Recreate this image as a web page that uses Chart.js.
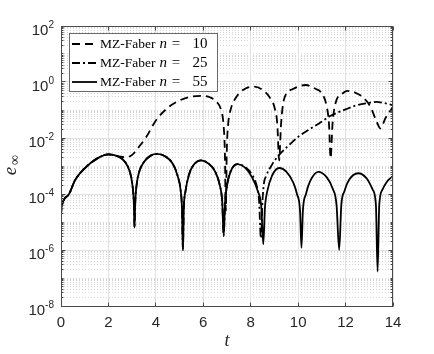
<!DOCTYPE html>
<html>
<head>
<meta charset="utf-8">
<script src="https://cdn.jsdelivr.net/npm/chart.js@4.4.1/dist/chart.umd.min.js"></script>
<style>
  html, body { margin: 0; padding: 0; background: #fff; }
</style>
</head>
<body>
<canvas id="chart" width="434" height="354"></canvas>
<script>
// n = 55 (solid)
const tN55 = [0, 0.02, 0.3, 0.6, 1.0, 1.5, 2.0, 2.4, 2.7, 2.9,
  3.0, 3.07, 3.1, 3.13, 3.2, 3.3, 3.5, 3.8, 4.05, 4.4,
  4.7, 4.9, 5.05, 5.1, 5.14, 5.18, 5.25, 5.4, 5.6, 5.9,
  6.2, 6.5, 6.7, 6.8, 6.86, 6.92, 7.0, 7.15, 7.44, 7.75,
  8.05, 8.3, 8.45, 8.53, 8.6, 8.7, 8.9, 9.2, 9.5, 9.8,
  9.95, 10.08, 10.14, 10.2, 10.33, 10.5, 10.85, 11.2, 11.45, 11.62,
  11.73, 11.82, 11.95, 12.15, 12.53, 12.9, 13.15, 13.28, 13.35, 13.42,
  13.55, 13.75, 14];
const eN55 = [1.6e-5, 3.2e-5, 8.9e-5, 3.2e-4, 8.3e-4, 1.8e-3, 2.6e-3, 2.2e-3, 1.4e-3, 6.3e-4,
  2.5e-4, 5.0e-5, 6.3e-6, 5.0e-5, 2.5e-4, 6.3e-4, 1.4e-3, 2.4e-3, 2.7e-3, 2.2e-3,
  1.26e-3, 5.0e-4, 1.26e-4, 3.2e-5, 1.0e-6, 3.2e-5, 1.26e-4, 5.0e-4, 1.12e-3, 1.6e-3,
  1.26e-3, 6.3e-4, 2.0e-4, 5.0e-5, 3.2e-6, 5.0e-5, 2.0e-4, 6.3e-4, 1.17e-3, 8.9e-4,
  4.0e-4, 1.26e-4, 3.2e-5, 1.6e-6, 3.2e-5, 1.26e-4, 4.5e-4, 8.5e-4, 6.3e-4, 2.5e-4,
  1.0e-4, 2.5e-5, 1.2e-6, 2.5e-5, 1.0e-4, 2.8e-4, 6.2e-4, 4.0e-4, 1.6e-4, 4.0e-5,
  1.0e-6, 4.0e-5, 1.26e-4, 3.2e-4, 5.5e-4, 3.5e-4, 1.4e-4, 4.0e-5, 1.7e-7, 4.0e-5,
  1.4e-4, 2.8e-4, 4.4e-4];

// n = 25 (dash-dot)
const tN25 = [0, 0.02, 0.3, 0.6, 1.0, 1.5, 2.0, 2.4, 2.7, 2.9,
  3.0, 3.07, 3.1, 3.13, 3.2, 3.3, 3.5, 3.8, 4.05, 4.4,
  4.7, 4.9, 5.05, 5.1, 5.14, 5.18, 5.25, 5.4, 5.6, 5.9,
  6.2, 6.5, 6.7, 6.8, 6.86, 6.92, 7.0, 7.15, 7.44, 7.75,
  8.05, 8.25, 8.35, 8.43, 8.5, 8.56, 8.64, 8.9, 9.2, 9.62,
  10.0, 10.5, 10.88, 11.37, 12.0, 12.5, 12.98, 13.3, 13.6, 14];
const eN25 = [1.6e-5, 3.2e-5, 8.9e-5, 3.2e-4, 8.3e-4, 1.8e-3, 2.6e-3, 2.2e-3, 1.4e-3, 6.3e-4,
  2.5e-4, 5.0e-5, 6.3e-6, 5.0e-5, 2.5e-4, 6.3e-4, 1.4e-3, 2.4e-3, 2.7e-3, 2.2e-3,
  1.26e-3, 5.0e-4, 1.26e-4, 3.2e-5, 1.0e-6, 3.2e-5, 1.26e-4, 5.0e-4, 1.12e-3, 1.6e-3,
  1.26e-3, 6.3e-4, 2.0e-4, 5.0e-5, 3.2e-6, 5.0e-5, 2.0e-4, 6.3e-4, 1.17e-3, 9.3e-4,
  5.0e-4, 2.0e-4, 6.3e-5, 2.7e-6, 6.3e-5, 2.5e-4, 4.2e-4, 1.12e-3, 2.5e-3, 5.6e-3,
  1.1e-2, 2.1e-2, 3.3e-2, 6.2e-2, 0.105, 0.15, 0.18, 0.195, 0.18, 0.15];

// n = 10 (dashed)
const tN10 = [0, 0.02, 0.3, 0.6, 1.0, 1.5, 2.0, 2.4, 2.6, 2.8,
  3.0, 3.3, 3.6, 4.0, 4.5, 5.0, 5.5, 5.93, 6.3, 6.55,
  6.75, 6.85, 6.91, 6.95, 6.99, 7.05, 7.15, 7.38, 7.8, 8.15,
  8.5, 8.78, 9.0, 9.12, 9.2, 9.28, 9.41, 9.76, 10.32, 10.75,
  10.95, 11.2, 11.3, 11.37, 11.45, 11.58, 11.86, 12.07, 12.4, 12.7,
  13.05, 13.33, 13.47, 13.68, 14];
const eN10 = [1.6e-5, 3.2e-5, 8.9e-5, 3.2e-4, 8.3e-4, 1.8e-3, 2.6e-3, 2.2e-3, 2.1e-3, 2.1e-3,
  2.5e-3, 5.0e-3, 1.1e-2, 4.2e-2, 0.12, 0.22, 0.3, 0.32, 0.28, 0.2,
  0.1, 0.032, 3.2e-3, 2.5e-5, 3.2e-3, 0.032, 0.1, 0.28, 0.6, 0.68,
  0.52, 0.3, 0.126, 0.032, 1.6e-3, 0.032, 0.25, 0.55, 0.78, 0.56,
  0.44, 0.14, 0.032, 1.9e-3, 0.032, 0.18, 0.38, 0.48, 0.42, 0.3,
  0.13, 0.035, 0.022, 0.051, 0.13];

const xTicks = [0, 2, 4, 6, 8, 10, 12, 14];
const yTickExps = [-8, -6, -4, -2, 0, 2];
const legendNs = ['10', '25', '55'];
const dashN10 = [8, 5];
const dashN25 = [8, 3, 2, 3];
const legendDash = [dashN10, dashN25, []];

function toPoints(t, e) {
  return t.map((v, i) => ({ x: v, y: e[i] }));
}

const tickFont = '15px "Liberation Sans", Arial, sans-serif';
const expFont = '10px "Liberation Sans", Arial, sans-serif';
const serif = '"Liberation Serif", "Times New Roman", serif';

function hline(ctx, x1, x2, y) {
  ctx.beginPath(); ctx.moveTo(x1, y); ctx.lineTo(x2, y); ctx.stroke();
}
function vline(ctx, x, y1, y2) {
  ctx.beginPath(); ctx.moveTo(x, y1); ctx.lineTo(x, y2); ctx.stroke();
}
const snap = v => Math.floor(v) + 0.5;

const framePlugin = {
  id: 'frame',
  beforeDatasetsDraw(chart) {
    const { ctx, chartArea: a, scales: { x, y } } = chart;
    ctx.save();
    ctx.lineWidth = 1;
    // minor grid (dotted)
    ctx.strokeStyle = '#d6d6d6';
    ctx.setLineDash([1, 2]);
    for (let k = -8; k < 2; k++) {
      for (let m = 1; m < 10; m++) {
        if (m === 1 && k % 2 === 0) continue;
        hline(ctx, a.left, a.right, snap(y.getPixelForValue(m * Math.pow(10, k))));
      }
    }
    // major grid
    ctx.setLineDash([]);
    ctx.strokeStyle = '#e2e2e2';
    yTickExps.forEach(k => hline(ctx, a.left, a.right, snap(y.getPixelForValue(Math.pow(10, k)))));
    xTicks.forEach(v => vline(ctx, snap(x.getPixelForValue(v)), a.top, a.bottom));
    ctx.restore();
  },
  afterDatasetsDraw(chart) {
    const { ctx, chartArea: a, scales: { x, y } } = chart;
    ctx.save();
    ctx.setLineDash([]);
    ctx.strokeStyle = '#4a4a4a';
    ctx.lineWidth = 1;
    const L = snap(a.left), R = snap(a.right) - 1, T = snap(a.top), B = snap(a.bottom);
    ctx.strokeRect(L, T, R - L, B - T);

    // tick marks (inward)
    for (let k = -8; k < 2; k++) {
      for (let m = 1; m < 10; m++) {
        const py = snap(y.getPixelForValue(m * Math.pow(10, k)));
        const len = (m === 1 && k % 2 === 0) ? 4 : 2;
        hline(ctx, L, L + len, py);
        hline(ctx, R - len, R, py);
      }
    }
    hline(ctx, L, L + 4, T);
    hline(ctx, R - 4, R, T);
    xTicks.forEach(v => {
      const px = snap(x.getPixelForValue(v));
      vline(ctx, px, B, B - 4);
      vline(ctx, px, T, T + 4);
    });

    // tick labels
    ctx.fillStyle = '#262626';
    ctx.textBaseline = 'middle';
    ctx.textAlign = 'center';
    ctx.font = tickFont;
    xTicks.forEach(v => ctx.fillText(String(v), x.getPixelForValue(v), 323));

    ctx.textAlign = 'left';
    yTickExps.forEach(k => {
      const py = y.getPixelForValue(Math.pow(10, k));
      const e = String(k);
      ctx.font = expFont;
      const ew = ctx.measureText(e).width;
      ctx.font = tickFont;
      const bw = ctx.measureText('10').width;
      const right = 54;
      ctx.fillText('10', right - ew - bw, py + 5);
      ctx.font = expFont;
      ctx.fillText(e, right - ew, py - 0.5);
    });

    // axis titles
    ctx.fillStyle = '#262626';
    ctx.textAlign = 'center';
    ctx.font = 'italic 18px ' + serif;
    ctx.fillText('t', 227, 341);
    ctx.save();
    ctx.translate(13, 165);
    ctx.rotate(-Math.PI / 2);
    ctx.font = 'italic 19px ' + serif;
    ctx.fillText('e', -6, -2);
    ctx.font = '14px ' + serif;
    ctx.fillText('\u221E', 5, 2);
    ctx.restore();

    // legend
    ctx.fillStyle = '#fff';
    ctx.fillRect(69.5, 33.5, 148, 58);
    ctx.strokeStyle = '#6a6a6a';
    ctx.strokeRect(69.5, 33.5, 148, 58);
    const rows = [44, 63, 82];
    legendNs.forEach((n, i) => {
      const ry = rows[i];
      ctx.strokeStyle = '#000';
      ctx.lineWidth = 1.8;
      ctx.setLineDash(legendDash[i]);
      hline(ctx, 72, 97, ry);
      ctx.setLineDash([]);
      ctx.fillStyle = '#000';
      ctx.textAlign = 'left';
      ctx.font = '13.5px ' + serif;
      ctx.fillText('MZ-Faber', 100, ry);
      const w1 = ctx.measureText('MZ-Faber').width;
      ctx.font = 'italic 15px ' + serif;
      ctx.fillText('n', 100 + w1 + 4, ry);
      ctx.font = '15px ' + serif;
      ctx.textAlign = 'center';
      ctx.fillText('=', 176, ry);
      ctx.fillText(n, 200, ry);
    });
    ctx.restore();
  }
};

const lineStyle = {
  borderColor: '#000',
  borderWidth: 1.8,
  pointRadius: 0,
  fill: false,
  cubicInterpolationMode: 'monotone'
};

new Chart(document.getElementById('chart'), {
  type: 'line',
  data: {
    datasets: [
      Object.assign({ label: 'MZ-Faber n = 55', data: toPoints(tN55, eN55) }, lineStyle),
      Object.assign({ label: 'MZ-Faber n = 25', data: toPoints(tN25, eN25), borderDash: dashN25 }, lineStyle),
      Object.assign({ label: 'MZ-Faber n = 10', data: toPoints(tN10, eN10), borderDash: dashN10 }, lineStyle)
    ]
  },
  options: {
    responsive: false,
    animation: false,
    layout: { padding: { left: 61, right: 41, top: 26, bottom: 48 } },
    plugins: { legend: { display: false }, tooltip: { enabled: false } },
    scales: {
      x: {
        type: 'linear', min: 0, max: 14,
        ticks: { display: false }, grid: { display: false }, border: { display: false },
        afterFit(s) { s.height = 0; }
      },
      y: {
        type: 'logarithmic', min: 1e-8, max: 100,
        ticks: { display: false }, grid: { display: false }, border: { display: false },
        afterFit(s) { s.width = 0; }
      }
    }
  },
  plugins: [framePlugin]
});
</script>
</body>
</html>
